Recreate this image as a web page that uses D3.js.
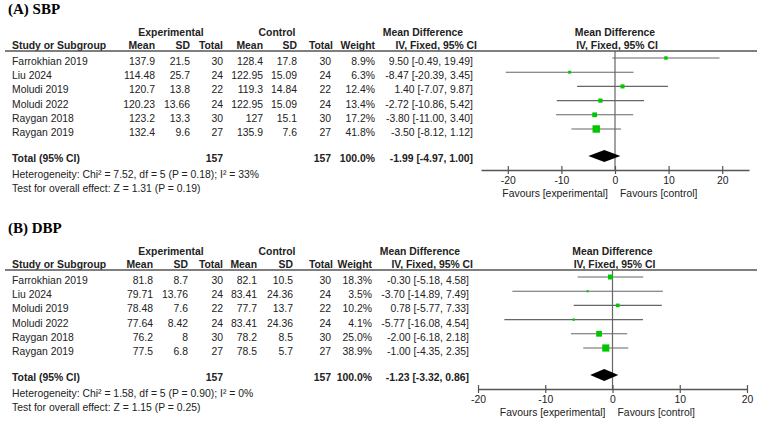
<!DOCTYPE html>
<html>
<head>
<meta charset="utf-8">
<script src="https://cdn.jsdelivr.net/npm/d3@7"></script>
<style>
  body { margin: 0; background: #fff; }
  svg { display: block; font-family: "Liberation Sans", Arial, sans-serif; }
</style>
</head>
<body>
<svg id="chart" width="760" height="424"></svg>
<script>
// study names shared by both panels
var studies = ['Farrokhian 2019', 'Liu 2024', 'Moludi 2019', 'Moludi 2022', 'Raygan 2018', 'Raygan 2019'];

// (A) SBP
var sbpExpMean = [137.9, 114.48, 120.7, 120.23, 123.2, 132.4];
var sbpExpSD   = [21.5, 25.7, 13.8, 13.66, 13.3, 9.6];
var sbpExpN    = [30, 24, 22, 24, 30, 27];
var sbpCtlMean = [128.4, 122.95, 119.3, 122.95, 127, 135.9];
var sbpCtlSD   = [17.8, 15.09, 14.84, 15.09, 15.1, 7.6];
var sbpCtlN    = [30, 24, 22, 24, 30, 27];
var sbpWeight  = [8.9, 6.3, 12.4, 13.4, 17.2, 41.8];
var sbpMD      = [9.50, -8.47, 1.40, -2.72, -3.80, -3.50];
var sbpLo      = [-0.49, -20.39, -7.07, -10.86, -11.00, -8.12];
var sbpHi      = [19.49, 3.45, 9.87, 5.42, 3.40, 1.12];
var sbpTotal   = [157, 157, 100.0, -1.99, -4.97, 1.00];
var sbpHet     = 'Heterogeneity: Chi\u00b2 = 7.52, df = 5 (P = 0.18); I\u00b2 = 33%';
var sbpTest    = 'Test for overall effect: Z = 1.31 (P = 0.19)';

// (B) DBP
var dbpExpMean = [81.8, 79.71, 78.48, 77.64, 76.2, 77.5];
var dbpExpSD   = [8.7, 13.76, 7.6, 8.42, 8, 6.8];
var dbpExpN    = [30, 24, 22, 24, 30, 27];
var dbpCtlMean = [82.1, 83.41, 77.7, 83.41, 78.2, 78.5];
var dbpCtlSD   = [10.5, 24.36, 13.7, 24.36, 8.5, 5.7];
var dbpCtlN    = [30, 24, 22, 24, 30, 27];
var dbpWeight  = [18.3, 3.5, 10.2, 4.1, 25.0, 38.9];
var dbpMD      = [-0.30, -3.70, 0.78, -5.77, -2.00, -1.00];
var dbpLo      = [-5.18, -14.89, -5.77, -16.08, -6.18, -4.35];
var dbpHi      = [4.58, 7.49, 7.33, 4.54, 2.18, 2.35];
var dbpTotal   = [157, 157, 100.0, -1.23, -3.32, 0.86];
var dbpHet     = 'Heterogeneity: Chi\u00b2 = 1.58, df = 5 (P = 0.90); I\u00b2 = 0%';
var dbpTest    = 'Test for overall effect: Z = 1.15 (P = 0.25)';

var axisTicks = [-20, -10, 0, 10, 20];

var svg = d3.select('#chart');
var fs = 10.4;   // regular text
var fb = 10.4;   // bold text

function ci(md, lo, hi) {
    return md.toFixed(2) + ' [' + lo.toFixed(2) + ', ' + hi.toFixed(2) + ']';
}

function drawPanel(p) {
    var g = svg.append('g').attr('transform', 'translate(0,' + p.top + ')');
    var c = p.cols;

    g.append('text').attr('x', 8).attr('y', 14)
        .style('font-family', '"Liberation Serif", "Times New Roman", serif')
        .style('font-weight', 'bold').style('font-size', '15px')
        .text(p.title);

    // header rows
    var hdr = g.append('g').style('font-weight', 'bold').style('font-size', fb + 'px').attr('fill', '#222');
    hdr.append('text').attr('x', 171).attr('y', 36).attr('text-anchor', 'middle').text('Experimental');
    hdr.append('text').attr('x', 277).attr('y', 36).attr('text-anchor', 'middle').text('Control');
    hdr.append('text').attr('x', p.mdHead).attr('y', 36).attr('text-anchor', 'middle').text('Mean Difference');
    hdr.append('text').attr('x', p.x(0)).attr('y', 36).attr('text-anchor', 'middle').text('Mean Difference');
    hdr.append('text').attr('x', 12).attr('y', 49).text('Study or Subgroup');
    var h2 = ['Mean', 'SD', 'Total', 'Mean', 'SD', 'Total', 'Weight'];
    hdr.selectAll('.h2').data(h2).join('text')
        .attr('x', function (d, i) { return i === 5 ? c[i] + 2 : c[i]; }).attr('y', 49)
        .attr('text-anchor', 'end').text(function (d) { return d; });
    hdr.append('text').attr('x', c[7] + 4).attr('y', 49).attr('text-anchor', 'end').text('IV, Fixed, 95% CI');
    hdr.append('text').attr('x', p.x(0) + 2).attr('y', 49).attr('text-anchor', 'middle').text('IV, Fixed, 95% CI');

    g.append('line').attr('x1', 5).attr('x2', 757).attr('y1', 51).attr('y2', 51)
        .attr('stroke', '#555').attr('stroke-width', 1.3);

    var rowY = function (i) { return 65 + i * 14.2; };

    // study rows
    var body = g.append('g').style('font-size', fs + 'px').attr('fill', '#222');
    studies.forEach(function (s, i) {
        var y = rowY(i);
        body.append('text').attr('x', 12).attr('y', y).text(s);
        var vals = [p.em[i], p.es[i], p.en[i], p.cm[i], p.cs[i], p.cn[i],
            p.w[i].toFixed(1) + '%', ci(p.md[i], p.lo[i], p.hi[i])];
        vals.forEach(function (v, j) {
            body.append('text').attr('x', c[j]).attr('y', y).attr('text-anchor', 'end').text(v);
        });
    });

    // total row
    var tot = g.append('g').style('font-weight', 'bold').style('font-size', fb + 'px').attr('fill', '#222');
    tot.append('text').attr('x', 12).attr('y', 162).text('Total (95% CI)');
    tot.append('text').attr('x', c[2]).attr('y', 162).attr('text-anchor', 'end').text(p.total[0]);
    tot.append('text').attr('x', c[5]).attr('y', 162).attr('text-anchor', 'end').text(p.total[1]);
    tot.append('text').attr('x', c[6]).attr('y', 162).attr('text-anchor', 'end').text(p.total[2].toFixed(1) + '%');
    tot.append('text').attr('x', c[7]).attr('y', 162).attr('text-anchor', 'end').text(ci(p.total[3], p.total[4], p.total[5]));

    body.append('text').attr('x', 12).attr('y', 178).text(p.het);
    body.append('text').attr('x', 12).attr('y', 191.5).text(p.test);

    // forest plot
    var x = p.x;
    var axisY = 170;
    g.append('line').attr('x1', x(0)).attr('x2', x(0)).attr('y1', 51).attr('y2', axisY)
        .attr('stroke', '#666').attr('stroke-width', 1.2);

    var rows = g.append('g');
    studies.forEach(function (s, i) {
        var y = rowY(i) - 7;
        rows.append('line').attr('x1', x(p.lo[i])).attr('x2', x(p.hi[i]))
            .attr('y1', y).attr('y2', y).attr('stroke', '#666').attr('stroke-width', 1.1);
        var side = Math.max(2, 1.15 * Math.sqrt(p.w[i]));
        rows.append('rect').attr('x', x(p.md[i]) - side / 2).attr('y', y - side / 2)
            .attr('width', side).attr('height', side).attr('fill', '#00c800');
    });

    var dy = 156;
    var diamond = [[x(p.total[4]), dy], [x(p.total[3]), dy - 6], [x(p.total[5]), dy], [x(p.total[3]), dy + 6]];
    g.append('path').attr('d', d3.line()(diamond) + 'Z').attr('fill', '#000');

    var axis = d3.axisBottom(x).tickValues(axisTicks).tickSize(0).tickFormat(d3.format('d'));
    var ag = g.append('g').attr('transform', 'translate(0,' + axisY + ')').call(axis);
    ag.select('.domain').attr('stroke', '#555').attr('stroke-width', 1.4);
    ag.selectAll('.tick line').attr('y1', -4).attr('y2', 4).attr('stroke', '#555').attr('stroke-width', 1.2);
    ag.selectAll('.tick text').attr('y', 7).attr('dy', '0.71em').attr('fill', '#222')
        .style('font-size', fs + 'px').style('font-family', '"Liberation Sans", Arial, sans-serif')
        .text(function (d) { return d; });

    body.append('text').attr('x', x(0) - 7).attr('y', 197).attr('text-anchor', 'end').text('Favours [experimental]');
    body.append('text').attr('x', x(0) + 5).attr('y', 197).text('Favours [control]');
}

drawPanel({
    top: 0, title: '(A) SBP', mdHead: 423,
    cols: [155, 190, 223, 263, 297, 331, 375, 473],
    x: d3.scaleLinear().domain([-25, 25]).range([481, 749]),
    em: sbpExpMean, es: sbpExpSD, en: sbpExpN, cm: sbpCtlMean, cs: sbpCtlSD, cn: sbpCtlN,
    w: sbpWeight, md: sbpMD, lo: sbpLo, hi: sbpHi, total: sbpTotal, het: sbpHet, test: sbpTest
});

drawPanel({
    top: 219, title: '(B) DBP', mdHead: 420,
    cols: [153, 188, 223, 257, 293, 331, 372, 469],
    x: d3.scaleLinear().domain([-20, 20]).range([478, 747]),
    em: dbpExpMean, es: dbpExpSD, en: dbpExpN, cm: dbpCtlMean, cs: dbpCtlSD, cn: dbpCtlN,
    w: dbpWeight, md: dbpMD, lo: dbpLo, hi: dbpHi, total: dbpTotal, het: dbpHet, test: dbpTest
});
</script>
</body>
</html>
